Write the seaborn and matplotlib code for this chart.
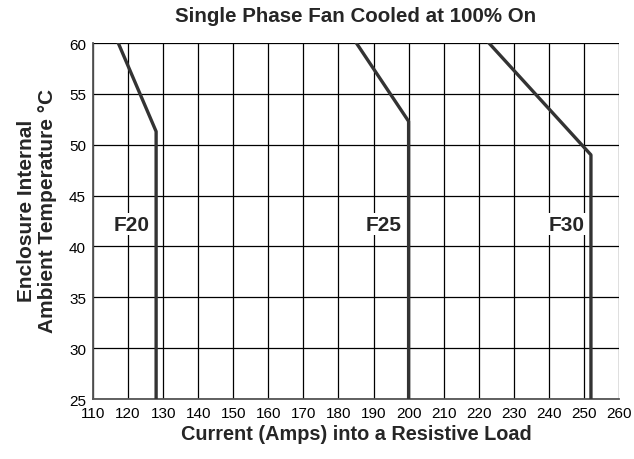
import matplotlib
matplotlib.use("Agg")
import matplotlib.pyplot as plt
import seaborn as sns
import pandas as pd

# curve points (current in amps, temperature in C)
f20_amps = [117.2, 128, 128]
f20_temp = [60, 51.3, 25]
f25_amps = [185.1, 200, 200]
f25_temp = [60, 52.3, 25]
f30_amps = [222.9, 252, 252]
f30_temp = [60, 49, 25]

labels = ["F20", "F25", "F30"]
label_x = [120.9, 192.9, 245.0]
label_y = [42.2, 42.2, 42.2]

x_ticks = list(range(110, 261, 10))
y_ticks = list(range(25, 61, 5))

sns.set_style("white")
plt.rcParams['font.family'] = ['Liberation Sans', 'DejaVu Sans']

rows = []
for name, xs, ys in [("F20", f20_amps, f20_temp), ("F25", f25_amps, f25_temp), ("F30", f30_amps, f30_temp)]:
    for a, t in zip(xs, ys):
        rows.append({"series": name, "amps": a, "temp": t})
df = pd.DataFrame(rows)

fig = plt.figure(figsize=(6.34, 4.6), dpi=100)
# axes box: x 93..619 px, y 44..400 px
ax = fig.add_axes([93 / 634, 1 - 400 / 460, 526 / 634, 356 / 460])

for name in labels:
    sub = df[df["series"] == name]
    sns.lineplot(data=sub, x="amps", y="temp", sort=False, estimator=None,
                 ax=ax, color="#333333", linewidth=2.4, zorder=3)

ax.set_xlim(110, 260)
ax.set_ylim(25, 60)
ax.set_xticks(x_ticks)
ax.set_yticks(y_ticks)
ax.tick_params(axis="both", length=0, labelsize=11, colors="black", pad=5)
ax.grid(True, color="black", linewidth=0.9)
ax.set_axisbelow(True)
for side in ["top", "right"]:
    ax.spines[side].set_visible(False)
for side in ["left", "bottom"]:
    ax.spines[side].set_color("#555555")
    ax.spines[side].set_linewidth(1.3)

for lab, lx, ly in zip(labels, label_x, label_y):
    ax.text(lx, ly, lab, ha="center", va="center", fontsize=15, fontweight="bold",
            zorder=4, bbox=dict(facecolor="white", edgecolor="none", pad=1.0))

ax.set_xlabel("Current (Amps) into a Resistive Load", fontsize=14.3, fontweight="bold", labelpad=3)
ax.set_ylabel("Enclosure Internal\nAmbient Temperature \u00b0C", fontsize=15, fontweight="bold",
              linespacing=1.15)
ax.yaxis.set_label_coords(-0.068, 0.53)
ax.set_title("Single Phase Fan Cooled at 100% On", fontsize=14.8, fontweight="bold", pad=15.5)

fig.savefig("out.png", dpi=100)
